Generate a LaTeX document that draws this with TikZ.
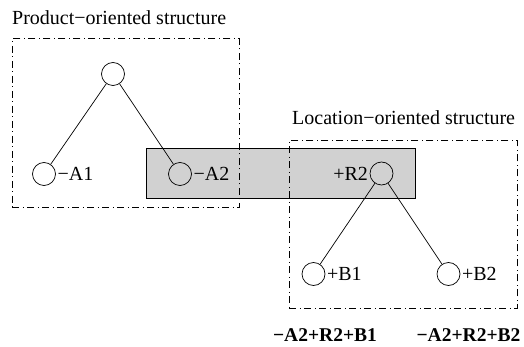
\documentclass[tikz,border=0pt]{standalone}
\usepackage{fontspec}
\setmainfont{Liberation Serif}
\begin{document}
\begin{tikzpicture}[x=1pt,y=-1pt,
  circ/.style={draw,circle,minimum size=23pt,inner sep=0pt,line width=0.7pt},
  lbl/.style={font=\fontsize{20}{22}\selectfont,inner sep=1.5pt},
  blbl/.style={font=\fontsize{19.5}{22}\selectfont\bfseries,inner sep=0pt},
  dbox/.style={draw,line width=0.7pt,dash pattern=on 7pt off 3.5pt on 1pt off 3.5pt},
  graybox/.style={draw,fill=black!18,line width=0.7pt},
  edge/.style={line width=0.7pt}]
\useasboundingbox (0,0) rectangle (524,347);
% gray band
\node[graybox,minimum width=269pt,minimum height=50pt,inner sep=0pt,anchor=north west] (band) at (146,148) {};
% dashed structure boxes
\node[dbox,minimum width=227pt,minimum height=169pt,inner sep=0pt,anchor=north west] (pbox) at (12,38.5) {};
\node[dbox,minimum width=228pt,minimum height=168pt,inner sep=0pt,anchor=north west] (lbox) at (289,140) {};
% titles
\node[lbl,anchor=base west,inner sep=0pt] (ptitle) at (12,25) {Product\textminus oriented structure};
\node[lbl,anchor=base west,inner sep=0pt] (ltitle) at (292,125) {Location\textminus oriented structure};
% product tree
\node[circ,fill=white] (top) at (113,74) {};
\node[circ,fill=white] (a1) at (44,174) {};
\node[circ] (a2) at (180,174) {};
\draw[edge] (top) -- (a1);
\draw[edge] (top) -- (a2);
\node[lbl,anchor=west] (a1l) at (a1.east) {\textminus A1};
\node[lbl,anchor=west] (a2l) at (a2.east) {\textminus A2};
% location tree
\node[circ] (r2) at (381.5,173.5) {};
\node[circ,fill=white] (b1) at (313.5,274) {};
\node[circ,fill=white] (b2) at (448.5,274) {};
\draw[edge] (r2) -- (b1);
\draw[edge] (r2) -- (b2);
\node[lbl,anchor=east] (r2l) at (r2.west) {+R2};
\node[lbl,anchor=west] (b1l) at (b1.east) {+B1};
\node[lbl,anchor=west] (b2l) at (b2.east) {+B2};
% combined designations
\node[blbl,anchor=base] (c1) at (325,341) {\textminus A2+R2+B1};
\node[blbl,anchor=base] (c2) at (468.5,341) {\textminus A2+R2+B2};
\end{tikzpicture}
\end{document}
